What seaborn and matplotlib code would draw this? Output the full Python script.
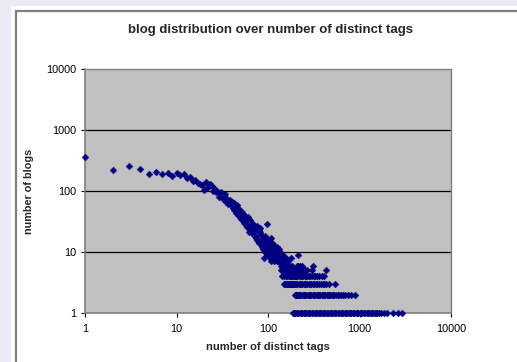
import numpy as np
import pandas as pd
import matplotlib
matplotlib.use("Agg")
import matplotlib.pyplot as plt
from matplotlib.patches import Rectangle
from matplotlib.ticker import FixedLocator, NullLocator
import seaborn as sns

# blogs per number of distinct tags, x = 1..200 (one count per tag number)
blogs_1_200 = [
    360, 220, 255, 230, 190, 205, 190, 195, 175, 195,
    180, 190, 165, 170, 145, 150, 135, 130, 125, 105,
    140, 115, 128, 125, 100, 112, 95, 100, 80, 92,
    95, 74, 80, 88, 65, 75, 62, 70, 58, 66,
    52, 64, 48, 56, 44, 58, 40, 50, 38, 47,
    35, 45, 33, 41, 30, 39, 28, 36, 26, 37,
    32, 21, 33, 24, 30, 22, 27, 20, 29, 19,
    26, 18, 24, 17, 27, 16, 22, 15, 23, 14,
    21, 25, 14, 19, 12, 18, 15, 11, 17, 8,
    13, 18, 10, 15, 11, 14, 29, 9, 16, 12,
    11, 9, 15, 8, 13, 10, 17, 7, 12, 9,
    14, 8, 11, 10, 13, 7, 9, 12, 8, 11,
    9, 10, 8, 12, 7, 9, 8, 10, 7, 9,
    8, 7, 11, 7, 8, 10, 7, 6, 8, 5,
    6, 8, 4, 5, 9, 6, 7, 5, 3, 8,
    4, 5, 6, 3, 7, 4, 5, 8, 3, 6,
    5, 4, 3, 6, 5, 3, 7, 4, 5, 3,
    4, 6, 3, 5, 4, 3, 8, 5, 4, 3,
    5, 3, 4, 6, 3, 1, 4, 3, 5, 1,
    3, 4, 1, 5, 3, 1, 2, 4, 1, 2,
]
tags_1_200 = list(range(1, 201))

# beyond 200 tags: tag counts grouped by the number of blogs
tags_9 = [213]
tags_6 = [205, 212, 224, 238, 310]
tags_5 = [203, 209, 216, 221, 229, 236, 247, 255, 265, 304, 435]
tags_4 = [202, 208, 215, 222, 229, 236, 244, 252, 261, 270, 280, 291, 303, 316, 330,
          345, 362, 385, 410]
tags_3 = [204, 210, 216, 223, 230, 237, 245, 253, 261, 270, 279, 288, 298, 308, 320,
          333, 347, 362, 378, 395, 412, 430, 460, 540]
tags_2 = [201, 206, 212, 218, 225, 232, 239, 247, 255, 263, 271, 280, 289, 298, 308,
          318, 328, 339, 350, 361, 373, 385, 397, 410, 423, 437, 451, 466, 481, 497,
          513, 530, 550, 575, 600, 630, 660, 690, 745, 800, 890]
tags_1 = [207, 214, 221, 229, 237, 245, 254, 263, 272, 281, 291, 301, 312, 323, 334,
          346, 358, 370, 383, 397, 411, 425, 440, 455, 471, 488, 505, 522, 541, 560,
          579, 600, 620, 642, 665, 688, 712, 737, 763, 790, 817, 846, 876, 906, 938,
          971, 1005, 1040, 1076, 1114, 1153, 1193, 1235, 1278, 1323, 1370, 1417, 1467,
          1518, 1571, 1626, 1700, 1830, 1980, 2340, 2640, 2890]

tail = {9: tags_9, 6: tags_6, 5: tags_5, 4: tags_4, 3: tags_3, 2: tags_2, 1: tags_1}
rows = [{"tags": t, "blogs": b} for t, b in zip(tags_1_200, blogs_1_200)]
for b, ts in tail.items():
    rows += [{"tags": t, "blogs": b} for t in ts]
df = pd.DataFrame(rows)

sns.set_style("white")
plt.rcParams["font.family"] = ["Liberation Sans", "DejaVu Sans"]

fig = plt.figure(figsize=(5.17, 3.62), dpi=100)
fig.patch.set_facecolor("#e9ebf7")
# white chart frame with grey border (Excel style)
fig.patches.append(Rectangle((11 / 517, 0), 1, 1 - 6 / 362, transform=fig.transFigure,
                             facecolor="white", edgecolor="none", zorder=-10))
fig.patches.append(Rectangle((15.5 / 517, -0.05), 1, 1 - 10.5 / 362 + 0.05, transform=fig.transFigure,
                             facecolor="white", edgecolor="#808080", linewidth=1.6, zorder=-9))

ax = fig.add_axes([85 / 517, 1 - 313 / 362, 366 / 517, 244 / 362])
ax.set_zorder(5)
ax.set_facecolor("#c0c0c0")

sns.scatterplot(data=df, x="tags", y="blogs", marker="D", s=12, color="#000080",
                edgecolor="#000080", linewidth=0.3, ax=ax, zorder=3, clip_on=False)

ax.set_xscale("log")
ax.set_yscale("log")
ax.set_xlim(1, 10000)
ax.set_ylim(1, 10000)

decades = [1, 10, 100, 1000, 10000]
ax.xaxis.set_major_locator(FixedLocator(decades))
ax.yaxis.set_major_locator(FixedLocator(decades))
ax.xaxis.set_minor_locator(NullLocator())
ax.yaxis.set_minor_locator(NullLocator())
ax.set_xticklabels([str(d) for d in decades])
ax.set_yticklabels([str(d) for d in decades])
ax.tick_params(axis="both", which="major", direction="out", length=3, width=0.8,
               colors="black", labelsize=7.8, pad=3, bottom=True, left=True)
ax.tick_params(axis="x", pad=5)

for y in [10, 100, 1000]:
    ax.axhline(y, color="black", linewidth=0.9, zorder=1)

for side in ["top", "right"]:
    ax.spines[side].set_color("#808080")
    ax.spines[side].set_linewidth(1.0)
for side in ["bottom", "left"]:
    ax.spines[side].set_color("#808080")
    ax.spines[side].set_linewidth(1.2)

ax.set_xlabel("number of distinct tags", fontsize=8, fontweight="bold", labelpad=6)
ax.set_ylabel("number of blogs", fontsize=7.8, fontweight="bold", labelpad=9)
fig.text(270 / 517, 1 - 30 / 362, "blog distribution over number of distinct tags",
         ha="center", va="center", fontsize=9.5, fontweight="bold")

fig.savefig("out.png", dpi=100)
